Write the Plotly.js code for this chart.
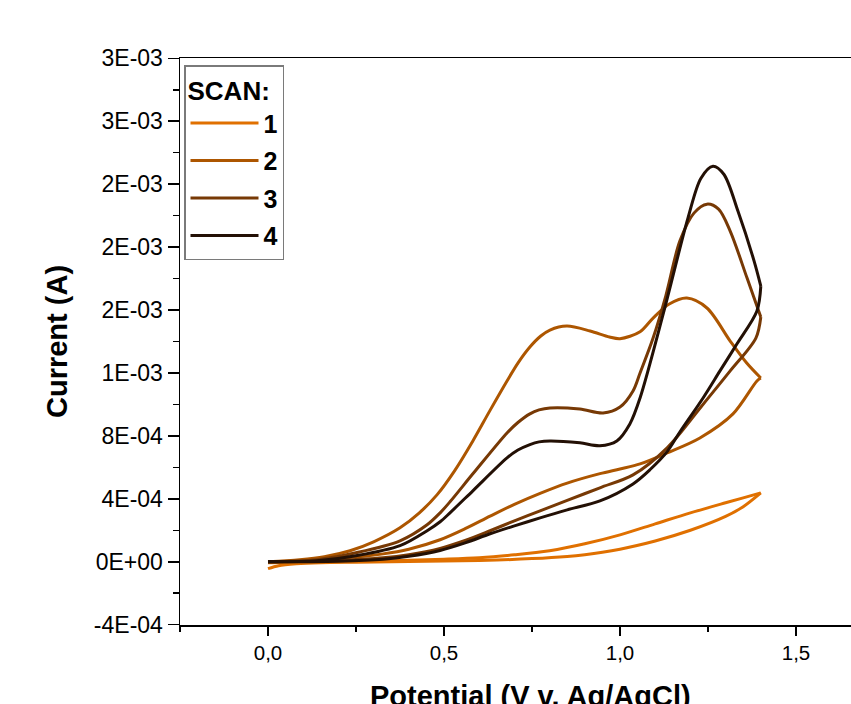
<!DOCTYPE html>
<html>
<head>
<meta charset="utf-8">
<script src="https://cdn.plot.ly/plotly-3.0.1.min.js"></script>
<style>html,body{margin:0;padding:0;background:#fff;overflow:hidden;}#chart{width:851px;height:704px;}</style>
</head>
<body>
<div id="chart"></div>
<script>
// Scan 1
const scan1FwdX = [0, 0.03, 0.08, 0.15, 0.25, 0.35, 0.45, 0.55, 0.65, 0.75, 0.85, 0.9, 0.95, 1.0, 1.1, 1.2, 1.3, 1.35, 1.4];
const scan1FwdY = [-4.4e-5, -2.5e-5, -1.3e-5, -6e-6, -3e-6, 0, 3e-6, 6e-6, 1.1e-5, 2.0e-5, 3.4e-5, 4.5e-5, 6.0e-5, 8.0e-5, 1.32e-4, 2.0e-4, 2.88e-4, 3.50e-4, 4.38e-4];
const scan1RevX = [1.4, 1.35, 1.3, 1.2, 1.1, 1.0, 0.9, 0.8, 0.7, 0.6, 0.5, 0.4, 0.3, 0.2, 0.1, 0.0];
const scan1RevY = [4.38e-4, 4.06e-4, 3.75e-4, 3.11e-4, 2.41e-4, 1.71e-4, 1.14e-4, 7.0e-5, 4.4e-5, 2.5e-5, 1.6e-5, 1.0e-5, 3e-6, 0, -3e-6, -6e-6];
// Scan 2
const scan2FwdX = [0, 0.09, 0.16, 0.233, 0.3, 0.375, 0.43, 0.48, 0.53, 0.582, 0.63, 0.679, 0.71, 0.744, 0.775, 0.801, 0.849, 0.915, 0.97, 1.0, 1.057, 1.094, 1.14, 1.19, 1.247, 1.313, 1.36, 1.4];
const scan2FwdY = [0, 1.3e-5, 3.2e-5, 7.0e-5, 1.27e-4, 2.16e-4, 3.11e-4, 4.25e-4, 5.78e-4, 7.68e-4, 9.59e-4, 1.149e-3, 1.263e-3, 1.365e-3, 1.435e-3, 1.473e-3, 1.498e-3, 1.467e-3, 1.429e-3, 1.418e-3, 1.462e-3, 1.549e-3, 1.638e-3, 1.676e-3, 1.613e-3, 1.403e-3, 1.263e-3, 1.168e-3];
const scan2RevX = [1.4, 1.389, 1.321, 1.227, 1.134, 1.057, 1.0, 0.943, 0.85, 0.773, 0.7, 0.631, 0.56, 0.489, 0.4, 0.327, 0.2, 0.1, 0];
const scan2RevY = [1.168e-3, 1.149e-3, 9.40e-4, 7.87e-4, 6.92e-4, 6.22e-4, 5.90e-4, 5.60e-4, 5.00e-4, 4.35e-4, 3.65e-4, 2.90e-4, 2.10e-4, 1.40e-4, 8.0e-5, 5.0e-5, 2.0e-5, 7e-6, 0];
// Scan 3
const scan3FwdX = [0, 0.139, 0.25, 0.375, 0.452, 0.489, 0.517, 0.582, 0.679, 0.71, 0.744, 0.77, 0.801, 0.886, 0.952, 1.0, 1.037, 1.057, 1.094, 1.13, 1.17, 1.21, 1.247, 1.28, 1.313, 1.361, 1.4];
const scan3FwdY = [0, 1.3e-5, 5.7e-5, 1.33e-4, 2.35e-4, 3.11e-4, 3.81e-4, 5.59e-4, 8.19e-4, 8.85e-4, 9.40e-4, 9.65e-4, 9.78e-4, 9.71e-4, 9.46e-4, 9.84e-4, 1.086e-3, 1.2e-3, 1.422e-3, 1.689e-3, 2.038e-3, 2.216e-3, 2.273e-3, 2.241e-3, 2.102e-3, 1.803e-3, 1.556e-3];
const scan3RevX = [1.4, 1.386, 1.313, 1.23, 1.134, 1.037, 0.943, 0.85, 0.773, 0.7, 0.631, 0.56, 0.489, 0.4, 0.327, 0.2, 0.1, 0];
const scan3RevY = [1.556e-3, 1.422e-3, 1.213e-3, 9.84e-4, 7.24e-4, 5.52e-4, 4.70e-4, 3.90e-4, 3.24e-4, 2.60e-4, 1.97e-4, 1.35e-4, 8.5e-5, 4.5e-5, 2.5e-5, 9e-6, 3e-6, 0];
// Scan 4
const scan4FwdX = [0, 0.139, 0.25, 0.375, 0.452, 0.489, 0.517, 0.582, 0.679, 0.71, 0.744, 0.77, 0.801, 0.886, 0.943, 0.991, 1.028, 1.057, 1.125, 1.193, 1.23, 1.264, 1.295, 1.335, 1.381, 1.4];
const scan4FwdY = [0, 6e-6, 3.8e-5, 1.02e-4, 1.97e-4, 2.54e-4, 3.11e-4, 4.51e-4, 6.60e-4, 7.10e-4, 7.45e-4, 7.62e-4, 7.68e-4, 7.56e-4, 7.38e-4, 7.68e-4, 8.76e-4, 1.041e-3, 1.594e-3, 2.184e-3, 2.438e-3, 2.514e-3, 2.463e-3, 2.229e-3, 1.911e-3, 1.752e-3];
const scan4RevX = [1.4, 1.389, 1.332, 1.284, 1.236, 1.17, 1.134, 1.085, 1.037, 0.943, 0.85, 0.773, 0.7, 0.631, 0.56, 0.489, 0.4, 0.327, 0.2, 0];
const scan4RevY = [1.752e-3, 1.594e-3, 1.384e-3, 1.213e-3, 1.041e-3, 8.25e-4, 7.00e-4, 5.85e-4, 4.95e-4, 3.87e-4, 3.30e-4, 2.79e-4, 2.28e-4, 1.78e-4, 1.20e-4, 7.2e-5, 3.5e-5, 1.6e-5, 4e-6, 0];

const scanNames = ['1', '2', '3', '4'];
const scanColors = ['#E07000', '#AD5600', '#773905', '#231005'];

const xTickVals = [0, 0.5, 1.0, 1.5];
const xTickText = ['0,0', '0,5', '1,0', '1,5'];
const yTickVals = [-4e-4, 0, 4e-4, 8e-4, 1.2e-3, 1.6e-3, 2.0e-3, 2.4e-3, 2.8e-3, 3.2e-3];
const yTickText = ['-4E-04', '0E+00', '4E-04', '8E-04', '1E-03', '2E-03', '2E-03', '2E-03', '3E-03', '3E-03'];

const series = [
  [scan1FwdX, scan1FwdY, scan1RevX, scan1RevY],
  [scan2FwdX, scan2FwdY, scan2RevX, scan2RevY],
  [scan3FwdX, scan3FwdY, scan3RevX, scan3RevY],
  [scan4FwdX, scan4FwdY, scan4RevX, scan4RevY]
];

const traces = [];
series.forEach((s, i) => {
  const line = {color: scanColors[i], width: 3, shape: 'spline', smoothing: 0.9};
  traces.push({x: s[0], y: s[1], type: 'scatter', mode: 'lines', name: scanNames[i], legendgroup: 'g' + i, line: line, showlegend: true});
  traces.push({x: s[2], y: s[3], type: 'scatter', mode: 'lines', name: scanNames[i], legendgroup: 'g' + i, line: line, showlegend: false});
});

const FONT = 'Liberation Sans, Arial, sans-serif';
const L = 180, R = 851, T = 58, B = 625;
const W = 851, H = 704;

const layout = {
  width: W, height: H,
  margin: {l: L, r: W - R, t: T, b: H - B, pad: 0},
  paper_bgcolor: '#ffffff', plot_bgcolor: '#ffffff',
  font: {family: FONT, color: '#000'},
  showlegend: true,
  legend: {
    x: (184 - L) / (R - L), y: 1 - (65 - T) / (B - T), xanchor: 'left', yanchor: 'top',
    bordercolor: '#7a7a7a', borderwidth: 1.5, bgcolor: '#ffffff',
    font: {family: FONT, size: 25, weight: 'bold', color: '#000'},
    title: {text: 'SCAN:', font: {family: FONT, size: 26, weight: 'bold', color: '#000'}},
    tracegroupgap: 2, itemwidth: 68
  },
  xaxis: {
    range: [-0.25, 1.5 + (R - 796) / 352], showgrid: false, zeroline: false,
    showline: true, linecolor: '#000', linewidth: 1.5, mirror: true,
    ticks: 'outside', ticklen: 9, tickwidth: 1.5, tickcolor: '#000',
    tickmode: 'array', tickvals: xTickVals, ticktext: xTickText,
    tickfont: {family: FONT, size: 20.5, color: '#000'},
    minor: {dtick: 0.25, tick0: 0, ticks: 'outside', ticklen: 5, tickwidth: 1.5, tickcolor: '#000', showgrid: false}
  },
  yaxis: {
    range: [-4.02e-4, 3.202e-3], showgrid: false, zeroline: false,
    showline: true, linecolor: '#000', linewidth: 1.5, mirror: false,
    ticks: 'outside', ticklen: 11, tickwidth: 1.5, tickcolor: '#000',
    tickmode: 'array', tickvals: yTickVals, ticktext: yTickText,
    tickfont: {family: FONT, size: 23, color: '#000'},
    minor: {dtick: 2e-4, tick0: 0, ticks: 'outside', ticklen: 6, tickwidth: 1.5, tickcolor: '#000', showgrid: false}
  },
  annotations: [{
    text: 'Potential (V v. Ag/AgCl)', xref: 'paper', yref: 'paper',
    x: (530 - L) / (R - L), y: (B - 678) / (B - T), xanchor: 'center', yanchor: 'top',
    showarrow: false, font: {family: FONT, size: 29, weight: 'bold', color: '#000'}
  }, {
    text: 'Current (A)', xref: 'paper', yref: 'paper', textangle: -90,
    x: (57 - L) / (R - L), y: 1 - (342 - T) / (B - T), xanchor: 'center', yanchor: 'middle',
    showarrow: false, font: {family: FONT, size: 29, weight: 'bold', color: '#000'}
  }]
};

Plotly.newPlot('chart', traces, layout, {displayModeBar: false, staticPlot: true});
</script>
</body>
</html>
